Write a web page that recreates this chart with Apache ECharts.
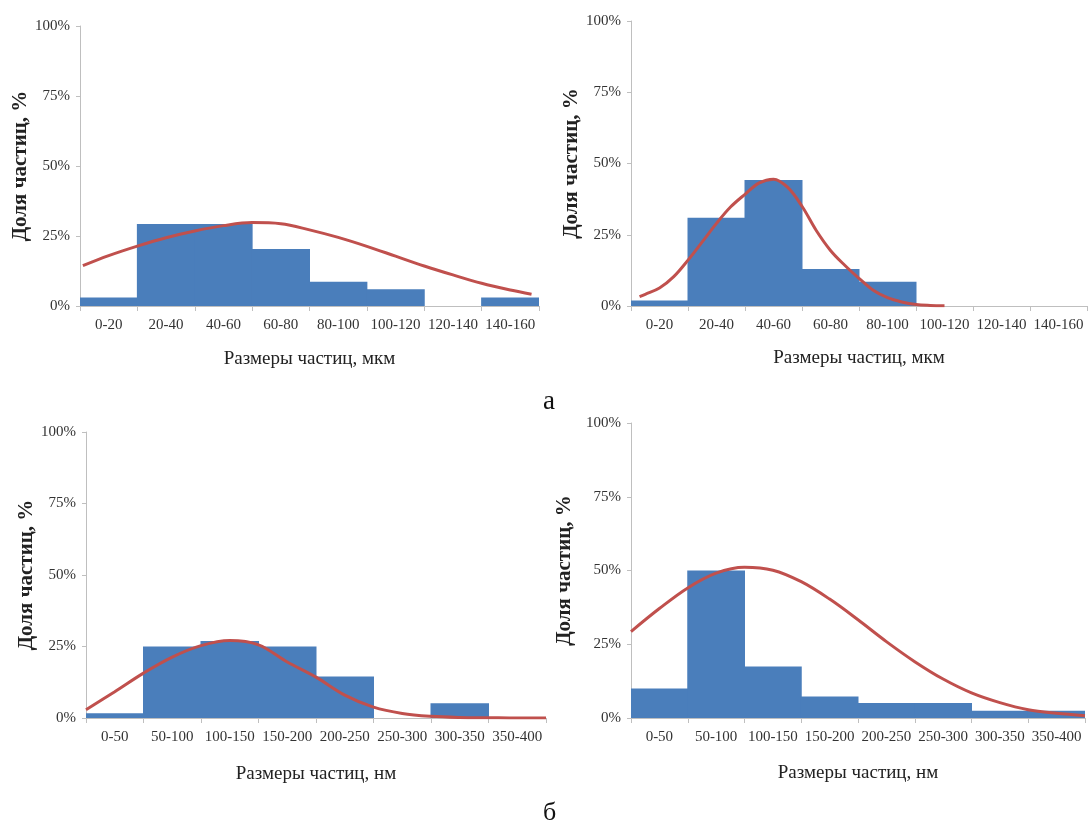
<!DOCTYPE html>
<html>
<head>
<meta charset="utf-8">
<script src="https://cdn.jsdelivr.net/npm/echarts@6/dist/echarts.min.js"></script>
<style>
  html, body { margin: 0; padding: 0; background: #ffffff; }
  #chart { width: 1088px; height: 825px; }
</style>
</head>
<body>
<div id="chart"></div>
<script>
// ---- Data ----
const catsMkm = ['0-20', '20-40', '40-60', '60-80', '80-100', '100-120', '120-140', '140-160'];
const catsNm = ['0-50', '50-100', '100-150', '150-200', '200-250', '250-300', '300-350', '350-400'];
const yTitle = 'Доля частиц, %';
const xTitleMkm = 'Размеры частиц, мкм';
const xTitleNm = 'Размеры частиц, нм';
const panelLabels = ['а', 'б'];

// bar heights, %
const barsA1 = [3, 29.3, 29.3, 20.4, 8.7, 6, 0, 3];
const barsA2 = [1.9, 31, 44.2, 13, 8.5, 0, 0, 0];
const barsB1 = [1.7, 25, 26.9, 25, 14.5, 0, 5.2, 0];
const barsB2 = [10, 50, 17.5, 7.3, 5.1, 5.1, 2.5, 2.5];

// fitted curves: [size, %]
const curveA1 = [[1, 14.4], [10, 18], [20, 21.4], [30, 24.4], [40, 26.8], [50, 28.7], [60, 29.8], [70, 29.4], [80, 27.2],
                 [90, 24.5], [100, 21.3], [110, 17.8], [120, 14.3], [130, 11.1], [140, 8.1], [150, 5.7], [157.4, 4.2]];
const curveA2 = [[3, 3.3], [5, 4.1], [10, 6.3], [15, 10.3], [20, 16.1], [25, 22.5], [30, 29], [35, 34.8], [40, 39.2],
                 [45, 43.2], [50, 44.5], [55, 41.6], [60, 35], [65, 26.5], [70, 19.5], [75, 14.3], [80, 9.7], [85, 5.5],
                 [90, 2.9], [95, 1.4], [100, 0.5], [105, 0.2], [110, 0.1]];
const curveB1 = [[0, 2.9], [25, 9.2], [50, 15.7], [75, 21.3], [100, 25.3], [125, 27.1], [150, 25.6], [175, 19.6],
                 [200, 14.3], [225, 8], [250, 3.8], [275, 1.6], [300, 0.6], [325, 0.2], [350, 0.1], [375, 0], [400, 0]];
const curveB2 = [[0, 29.3], [25, 37.1], [50, 44.1], [75, 49.1], [100, 51.1], [125, 50.1], [150, 46.2], [175, 40.3],
                 [200, 33.3], [225, 25.9], [250, 19.1], [275, 13.2], [300, 8.5], [325, 5.2], [350, 2.8], [375, 1.6], [400, 0.8]];

const panels = [
  { cats: catsMkm, bars: barsA1, curve: curveA1, xMax: 160, xTitle: xTitleMkm,
    grid: { left: 80, top: 26, width: 459, height: 280 }, yGap: 49, xGap: 44 },
  { cats: catsMkm, bars: barsA2, curve: curveA2, xMax: 160, xTitle: xTitleMkm,
    grid: { left: 631, top: 21, width: 456, height: 285 }, yGap: 49, xGap: 43 },
  { cats: catsNm, bars: barsB1, curve: curveB1, xMax: 400, xTitle: xTitleNm,
    grid: { left: 86, top: 432, width: 460, height: 286 }, yGap: 49, xGap: 47 },
  { cats: catsNm, bars: barsB2, curve: curveB2, xMax: 400, xTitle: xTitleNm,
    grid: { left: 631, top: 423, width: 454, height: 295 }, yGap: 56, xGap: 46 }
];

const FONT = '"Liberation Serif", "Times New Roman", serif';
const AXIS_COLOR = '#bfbfbf';
const BAR_COLOR = '#4a7ebb';
const LINE_COLOR = '#c0504d';

const grids = [], xAxes = [], yAxes = [], series = [];
panels.forEach((p, i) => {
  grids.push(Object.assign({ containLabel: false }, p.grid));
  xAxes.push({
    type: 'category', gridIndex: i, data: p.cats,
    boundaryGap: true,
    axisLine: { show: true, lineStyle: { color: AXIS_COLOR, width: 1 } },
    axisTick: { show: true, length: 5, alignWithLabel: false, lineStyle: { color: AXIS_COLOR } },
    axisLabel: { interval: 0, margin: 12, fontFamily: FONT, fontSize: 15, color: '#333333' },
    splitLine: { show: false },
    name: p.xTitle, nameLocation: 'middle', nameGap: p.xGap,
    nameTextStyle: { fontFamily: FONT, fontSize: 19, color: '#222222' }
  });
  xAxes.push({
    type: 'value', gridIndex: i, min: 0, max: p.xMax, show: false
  });
  yAxes.push({
    type: 'value', gridIndex: i, min: 0, max: 100, interval: 25,
    axisLine: { show: true, lineStyle: { color: AXIS_COLOR, width: 1 } },
    axisTick: { show: true, length: 4, lineStyle: { color: AXIS_COLOR } },
    axisLabel: { formatter: '{value}%', margin: 10, fontFamily: FONT, fontSize: 15, color: '#333333' },
    splitLine: { show: false },
    name: yTitle, nameLocation: 'middle', nameGap: p.yGap, nameRotate: 90,
    nameTextStyle: { fontFamily: FONT, fontSize: 21, fontWeight: 'bold', color: '#222222' }
  });
  series.push({
    type: 'bar', xAxisIndex: 2 * i, yAxisIndex: i,
    data: p.bars.map(v => (v === 0 ? '-' : v)),
    barWidth: p.grid.width / p.cats.length + 1,
    barGap: '-100%',
    itemStyle: { color: BAR_COLOR },
    silent: true, animation: false
  });
  series.push({
    type: 'line', xAxisIndex: 2 * i + 1, yAxisIndex: i, data: p.curve,
    smooth: 0.35, showSymbol: false, symbol: 'none',
    lineStyle: { color: LINE_COLOR, width: 3 },
    silent: true, animation: false, z: 3
  });
});

const chart = echarts.init(document.getElementById('chart'), null, { renderer: 'canvas' });
chart.setOption({
  backgroundColor: '#ffffff',
  animation: false,
  grid: grids,
  xAxis: xAxes,
  yAxis: yAxes,
  series: series,
  graphic: [
    { type: 'text', left: 543, top: 388, style: { text: panelLabels[0], font: '27px "Liberation Serif", serif', fill: '#111111' } },
    { type: 'text', left: 543, top: 800, style: { text: panelLabels[1], font: '26px "Liberation Serif", serif', fill: '#111111' } }
  ]
});
</script>
</body>
</html>
